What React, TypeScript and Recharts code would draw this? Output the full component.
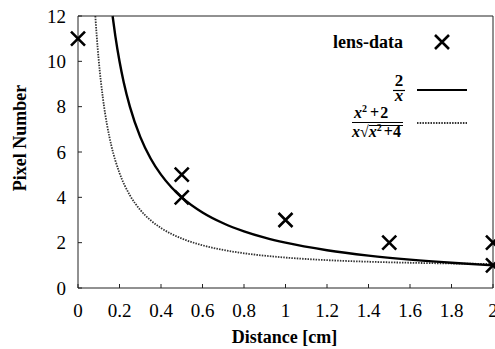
import { ComposedChart, Line, Scatter, XAxis, YAxis, Legend, Label } from "recharts"

const serif = "'Liberation Serif', 'Times New Roman', Tinos, 'DejaVu Serif', serif"

// axis ticks
const xTicks = [0, 0.2, 0.4, 0.6, 0.8, 1, 1.2, 1.4, 1.6, 1.8, 2]
const yTicks = [0, 2, 4, 6, 8, 10, 12]

// measured points (lens-data)
const lensX = [0, 0.5, 0.5, 1, 1.5, 2, 2]
const lensY = [11, 5, 4, 3, 2, 2, 1]

// 2/x curve
const invX = [0.1667, 0.18, 0.2, 0.22, 0.25, 0.3, 0.35, 0.4, 0.45, 0.5, 0.6, 0.7, 0.8, 0.9, 1, 1.2, 1.4, 1.6, 1.8, 2]
const invY = [12, 11.11, 10, 9.09, 8, 6.667, 5.714, 5, 4.444, 4, 3.333, 2.857, 2.5, 2.222, 2, 1.667, 1.429, 1.25, 1.111, 1]

// (x^2+2)/(x*sqrt(x^2+4)) curve
const corrX = [0.0835, 0.09, 0.1, 0.12, 0.14, 0.16, 0.2, 0.25, 0.3, 0.35, 0.4, 0.5, 0.6, 0.7, 0.8, 0.9, 1, 1.2, 1.4, 1.6, 1.8, 2]
const corrY = [12, 11.145, 10.037, 8.378, 7.195, 6.31, 5.075, 4.093, 3.445, 2.987, 2.648, 2.183, 1.884, 1.679, 1.532, 1.424, 1.342, 1.229, 1.159, 1.113, 1.082, 1.061]

const lensData = lensX.map((x, i) => ({ x, y: lensY[i] }))
const invData = invX.map((x, i) => ({ x, y: invY[i] }))
const corrData = corrX.map((x, i) => ({ x, y: corrY[i] }))

const Cross = (props: any) => {
  const { cx, cy } = props
  const s = 7
  return (
    <path
      d={`M${cx - s},${cy - s}L${cx + s},${cy + s}M${cx - s},${cy + s}L${cx + s},${cy - s}`}
      stroke="#000"
      strokeWidth={2.6}
      fill="none"
    />
  )
}

const bold = { fontFamily: serif, fontWeight: "bold" as const }

const LegendBox = () => (
  <svg width={495} height={349} style={{ display: "block", ...bold }}>
    <text x={403} y={48} fontSize={18} textAnchor="end" style={bold}>lens-data</text>
    <Cross cx={442} cy={42} />

    <text x={399} y={86} fontSize={17} textAnchor="middle" style={bold}>2</text>
    <line x1={393} x2={405} y1={90.5} y2={90.5} stroke="#000" strokeWidth={1.2} />
    <text x={399} y={101} fontSize={17} textAnchor="middle" style={{ ...bold, fontStyle: "italic" }}>x</text>
    <line x1={417} x2={467} y1={90} y2={90} stroke="#000" strokeWidth={2.2} />

    <text x={354} y={118} fontSize={16} style={bold}>
      <tspan fontStyle="italic">x</tspan>
      <tspan fontSize={10} dy={-6}>2</tspan>
      <tspan dy={6} dx={3}>+</tspan>
      <tspan dx={1}>2</tspan>
    </text>
    <line x1={352} x2={403} y1={122.5} y2={122.5} stroke="#000" strokeWidth={1.2} />
    <text x={352} y={137} fontSize={16} style={bold}>
      <tspan fontStyle="italic">x</tspan>
      <tspan>√</tspan>
      <tspan fontStyle="italic">x</tspan>
      <tspan fontSize={10} dy={-6}>2</tspan>
      <tspan dy={6} dx={2}>+</tspan>
      <tspan>4</tspan>
    </text>
    <line x1={369} x2={403} y1={125.5} y2={125.5} stroke="#000" strokeWidth={1} />
    <line x1={417} x2={467} y1={123} y2={123} stroke="#333" strokeWidth={1.8} strokeDasharray="1.5 1.2" />
  </svg>
)

const tickStyle = { fontSize: 19, fill: "#000", style: { fontFamily: serif } }

export default function App() {
  return (
    <div style={{ position: "absolute", left: 0, top: 0, background: "#fff", fontFamily: serif }}>
      <ComposedChart width={495} height={349} margin={{ top: 15, right: 1, left: 0, bottom: 0 }} style={{ fontFamily: serif }}>
        <XAxis
          xAxisId="b"
          dataKey="x"
          type="number"
          domain={[0, 2]}
          ticks={xTicks}
          height={61}
          tickSize={-4}
          tickMargin={20}
          stroke="#222"
          tick={tickStyle}
          interval={0}
        >
          <Label
            content={(p: any) => {
              const vb = p.viewBox
              return (
                <text x={vb.x + vb.width / 2 - 1} y={vb.y + 55} textAnchor="middle" fontSize={18} style={bold}>
                  Distance [cm]
                </text>
              )
            }}
          />
        </XAxis>
        <XAxis
          xAxisId="t"
          orientation="top"
          type="number"
          domain={[0, 2]}
          ticks={xTicks}
          height={1}
          tickSize={-4}
          stroke="#222"
          tickFormatter={() => ""}
          interval={0}
        />
        <YAxis
          yAxisId="l"
          type="number"
          domain={[0, 12]}
          ticks={yTicks}
          width={78}
          tickSize={-4}
          tickMargin={16}
          stroke="#222"
          tick={tickStyle}
          interval={0}
        >
          <Label
            content={(p: any) => {
              const vb = p.viewBox
              const lx = vb.x + 26
              const ly = vb.y + vb.height / 2 - 14
              return (
                <text x={lx} y={ly} transform={`rotate(-90 ${lx} ${ly})`} textAnchor="middle" fontSize={18} style={bold}>
                  Pixel Number
                </text>
              )
            }}
          />
        </YAxis>
        <YAxis
          yAxisId="r"
          orientation="right"
          type="number"
          domain={[0, 12]}
          ticks={yTicks}
          width={1}
          tickSize={-4}
          stroke="#222"
          tickFormatter={() => ""}
          interval={0}
        />
        <Line
          xAxisId="b"
          yAxisId="l"
          data={corrData}
          dataKey="y"
          type="monotone"
          stroke="#333"
          strokeWidth={1.8}
          strokeDasharray="1.5 1.2"
          dot={false}
          activeDot={false}
          isAnimationActive={false}
        />
        <Line
          xAxisId="b"
          yAxisId="l"
          data={invData}
          dataKey="y"
          type="monotone"
          stroke="#000"
          strokeWidth={2.4}
          dot={false}
          activeDot={false}
          isAnimationActive={false}
        />
        <Scatter
          xAxisId="b"
          yAxisId="l"
          data={lensData}
          dataKey="y"
          shape={Cross}
          isAnimationActive={false}
        />
        <Legend
          layout="vertical"
          align="center"
          verticalAlign="middle"
          width={495}
          height={349}
          wrapperStyle={{ left: 0, top: 0, pointerEvents: "none" }}
          content={() => <LegendBox />}
        />
      </ComposedChart>
    </div>
  )
}
